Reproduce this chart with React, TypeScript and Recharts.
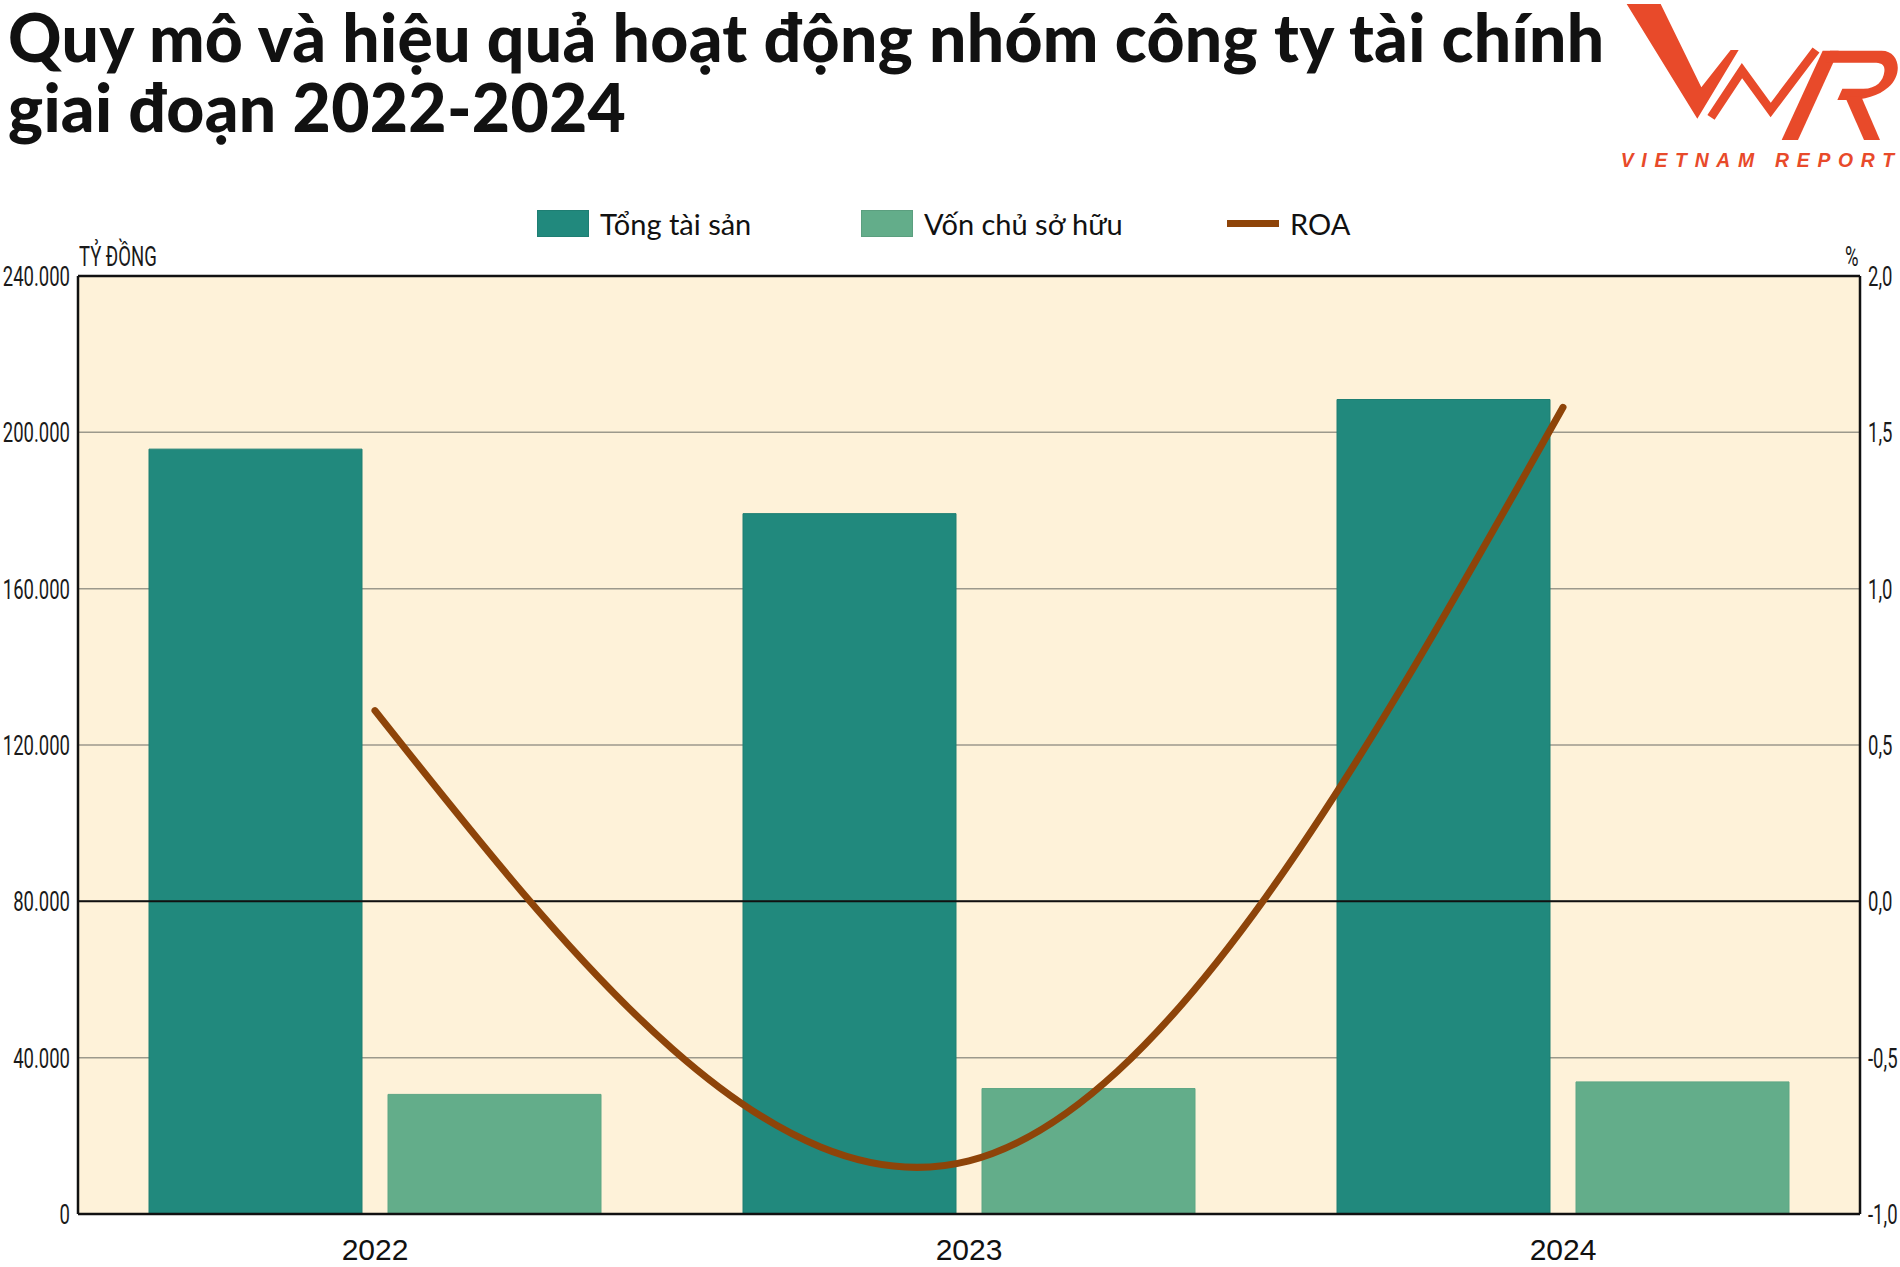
import React from "react";
import { ComposedChart, Bar, Line, XAxis, YAxis, CartesianGrid, ReferenceLine } from "recharts";

const years = ["2022", "2023", "2024"];
const totalAssets = [195700, 179200, 208400];
const equity = [30600, 32100, 33800];
const roa = [0.61, -0.83, 1.58];

const leftTicks = [0, 40000, 80000, 120000, 160000, 200000, 240000];
const rightTicks = [-1, -0.5, 0, 0.5, 1, 1.5, 2];

const TEAL = "#21897D";
const GREEN = "#63AD8A";
const BROWN = "#8E4409";
const CREAM = "#FEF2D9";
const RED = "#E84A2A";

const legendItems = [
  { name: "Tổng tài sản", color: TEAL, kind: "box", left: 537 },
  { name: "Vốn chủ sở hữu", color: GREEN, kind: "box", left: 861 },
  { name: "ROA", color: BROWN, kind: "line", left: 1227 },
];

const data = years.map((y, i) => ({
  year: y,
  total: totalAssets[i],
  equity: equity[i],
  roa: roa[i],
}));

const fmtLeft = (v: number) => v.toLocaleString("de-DE");
const fmtRight = (v: number) => v.toFixed(1).replace(".", ",");

const condensed = "Roboto, 'Liberation Sans', sans-serif";
const SQUEEZE = 0.66;

function LeftTick(props: any) {
  const { x, y, payload } = props;
  return (
    <g transform={`translate(${x},${y}) scale(${SQUEEZE},1)`}>
      <text x={0} y={0} dy={10} textAnchor="end" fontFamily={condensed} fontSize={28} fill="#1a1a1a">
        {fmtLeft(payload.value)}
      </text>
    </g>
  );
}

function RightTick(props: any) {
  const { x, y, payload } = props;
  return (
    <g transform={`translate(${x},${y}) scale(${SQUEEZE},1)`}>
      <text x={0} y={0} dy={10} textAnchor="start" fontFamily={condensed} fontSize={28} fill="#1a1a1a">
        {fmtRight(payload.value)}
      </text>
    </g>
  );
}

function YearTick(props: any) {
  const { x, y, payload } = props;
  return (
    <text x={x} y={y + 46} textAnchor="middle" fontFamily="'Liberation Sans', Arial, sans-serif" fontSize={30} fill="#111">
      {payload.value}
    </text>
  );
}

function Logo() {
  return (
    <svg width={280} height={175} viewBox="60 0 840 525" style={{ position: "absolute", left: 1620, top: 0 }}>
      <polygon points="80,12 182,12 304,262 392,150 416,150 292,356" fill={RED} />
      <polyline points="333,352 426,212 512,330 648,150" fill="none" stroke={RED} strokeWidth={26} />
      <polygon points="545,420 594,420 716,152 668,152" fill={RED} />
      <path
        d="M690,152 L845,152 C900,152 910,225 865,262 C835,288 795,300 740,300 L712,300 L727,266 L790,266 C830,266 850,242 853,215 C856,192 842,188 822,188 L676,188 Z"
        fill={RED}
      />
      <polygon points="735,290 784,290 840,420 792,420" fill={RED} />
      <text
        x={62}
        y={500}
        textLength={820}
        lengthAdjust="spacing"
        fontFamily="'Liberation Sans', Arial, sans-serif"
        fontStyle="italic"
        fontWeight={700}
        fontSize={58}
        fill={RED}
      >
        VIETNAM REPORT
      </text>
    </svg>
  );
}

function Legend() {
  return (
    <>
      {legendItems.map((it) => (
        <div
          key={it.name}
          style={{
            position: "absolute",
            left: it.left,
            top: 203,
            height: 40,
            display: "flex",
            alignItems: "center",
            gap: 11,
            fontFamily: "Lato, 'Noto Sans', sans-serif",
            fontSize: 29,
            color: "#111",
            whiteSpace: "nowrap",
          }}
        >
          {it.kind === "box" ? (
            <div style={{ width: 52, height: 27, background: it.color, border: "1px solid rgba(0,0,0,0.08)", boxSizing: "border-box" }} />
          ) : (
            <div style={{ width: 52, height: 7, background: it.color }} />
          )}
          <span>{it.name}</span>
        </div>
      ))}
    </>
  );
}

const axisNote: React.CSSProperties = {
  position: "absolute",
  top: 241,
  fontFamily: condensed,
  fontSize: 28,
  lineHeight: "32px",
  transform: `scaleX(${SQUEEZE})`,
  transformOrigin: "left top",
  color: "#1a1a1a",
  whiteSpace: "nowrap",
};

export default function App() {
  return (
    <div style={{ position: "absolute", left: 0, top: 0, width: 1900, height: 1267, background: "#fff" }}>
      <div
        style={{
          position: "absolute",
          left: 8,
          top: 2,
          fontFamily: "Lato, 'Noto Sans', sans-serif",
          fontWeight: 900,
          fontSize: 66,
          lineHeight: "70px",
          letterSpacing: 0.3,
          color: "#111",
          whiteSpace: "nowrap",
        }}
      >
        Quy mô và hiệu quả hoạt động nhóm công ty tài chính
        <br />
        giai đoạn 2022-2024
      </div>
      <Logo />
      <Legend />
      <div style={{ ...axisNote, left: 79 }}>TỶ ĐỒNG</div>
      <div style={{ ...axisNote, left: 1845 }}>%</div>
      <div style={{ position: "absolute", left: 0, top: 0 }}>
        <ComposedChart
          width={1900}
          height={1267}
          data={data}
          margin={{ top: 276, right: 0, bottom: 0, left: 0 }}
          barCategoryGap={71}
          barGap={26}
        >
          <CartesianGrid yAxisId="left" vertical={false} stroke="#9C998C" strokeWidth={1.5} fill={CREAM} fillOpacity={1} />
          <XAxis
            dataKey="year"
            height={53}
            tickLine={false}
            tickSize={0}
            tickMargin={0}
            axisLine={{ stroke: "#111", strokeWidth: 2.5 }}
            tick={<YearTick />}
          />
          <YAxis
            yAxisId="left"
            width={78}
            domain={[0, 240000]}
            ticks={leftTicks}
            tickLine={false}
            axisLine={{ stroke: "#111", strokeWidth: 2.5 }}
            tick={<LeftTick />}
          />
          <YAxis
            yAxisId="right"
            orientation="right"
            width={40}
            domain={[-1, 2]}
            ticks={rightTicks}
            tickLine={false}
            axisLine={{ stroke: "#111", strokeWidth: 2.5 }}
            tick={<RightTick />}
          />
          <ReferenceLine yAxisId="left" y={240000} stroke="#111" strokeWidth={2.5} />
          <Bar yAxisId="left" dataKey="total" name="Tổng tài sản" fill={TEAL} stroke="#1E7F73" strokeWidth={1} isAnimationActive={false} />
          <Bar yAxisId="left" dataKey="equity" name="Vốn chủ sở hữu" fill={GREEN} stroke="#5DA684" strokeWidth={1} isAnimationActive={false} />
          <ReferenceLine yAxisId="right" y={0} stroke="#111" strokeWidth={2} />
          <Line
            yAxisId="right"
            type="natural"
            dataKey="roa"
            name="ROA"
            stroke={BROWN}
            strokeWidth={7}
            strokeLinecap="round"
            dot={false}
            activeDot={false}
            isAnimationActive={false}
          />
        </ComposedChart>
      </div>
    </div>
  );
}
